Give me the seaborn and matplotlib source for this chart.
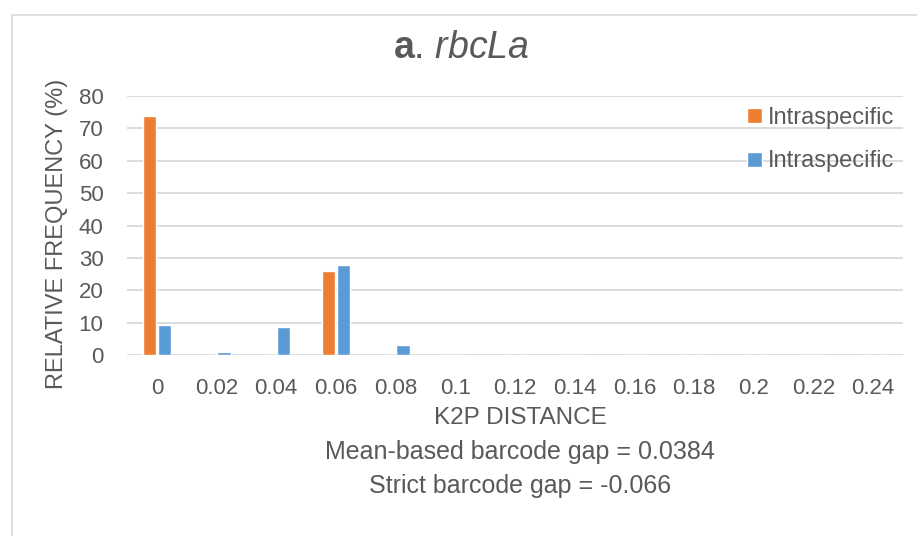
import pandas as pd
import matplotlib
matplotlib.use('Agg')
import matplotlib.pyplot as plt
from matplotlib.patches import Rectangle
import seaborn as sns

distance = ['0', '0.02', '0.04', '0.06', '0.08', '0.1', '0.12', '0.14',
            '0.16', '0.18', '0.2', '0.22', '0.24']
intra = [73.8, 0, 0, 26.0, 0, 0, 0, 0, 0, 0, 0, 0, 0]
inter = [9.3, 0.8, 8.5, 27.8, 3.0, 0, 0, 0, 0, 0, 0, 0, 0]
series_names = ['Intraspecific', 'Intraspecific ']  # both labelled the same in the source
colors = ['#ED7D31', '#5B9BD5']
gray = '#595959'

df = pd.DataFrame({
    'distance': distance * 2,
    'freq': intra + inter,
    'series': [series_names[0]] * len(distance) + [series_names[1]] * len(distance),
})

sns.set_theme(style='white')
font = 'Liberation Sans'
plt.rcParams['font.family'] = [font, 'DejaVu Sans']
plt.rcParams['mathtext.fontset'] = 'custom'
plt.rcParams['mathtext.rm'] = font
plt.rcParams['mathtext.it'] = font + ':italic'
plt.rcParams['mathtext.bf'] = font + ':bold'

fig = plt.figure(figsize=(9.17, 5.36), dpi=100)
ax = fig.add_axes([127 / 917, 1 - 355 / 536, 776 / 917, 259 / 536])

sns.barplot(data=df, x='distance', y='freq', hue='series', order=distance,
            hue_order=series_names, palette=colors, width=0.5, gap=0.1,
            saturation=1, ax=ax, zorder=3)

ax.set_ylim(0, 80)
ax.set_xlim(-0.5, len(distance) - 0.5)
ax.set_yticks(range(0, 81, 10))
ax.yaxis.grid(True, color='#D9D9D9', linewidth=1.3, zorder=0)
ax.set_axisbelow(True)
for s in ax.spines.values():
    s.set_visible(False)
ax.tick_params(axis='y', length=0, pad=17, labelsize=16, labelcolor=gray)
ax.tick_params(axis='x', length=0, pad=16.5, labelsize=16, labelcolor=gray)
ax.set_xlabel('')
ax.set_ylabel('')

fig.text(57 / 917, 1 - 234 / 536, 'RELATIVE FREQUENCY (%)', rotation=90,
         ha='center', va='center', fontsize=17, color=gray)
fig.text(520 / 917, 1 - 418 / 536, 'K2P DISTANCE', ha='center', va='center',
         fontsize=17.5, color=gray)
fig.text(520 / 917, 1 - 452 / 536, 'Mean-based barcode gap = 0.0384',
         ha='center', va='center', fontsize=18, color=gray)
fig.text(520 / 917, 1 - 486 / 536, 'Strict barcode gap = -0.066',
         ha='center', va='center', fontsize=18, color=gray)
fig.text(461 / 917, 1 - 48 / 536, r'$\mathbf{a}$. $\mathit{rbcLa}$',
         ha='center', va='center', fontsize=27, color=gray)

handles, labels = ax.get_legend_handles_labels()
ax.legend(handles, ['Intraspecific', 'Intraspecific'], loc='upper right',
          bbox_to_anchor=(908 / 917, 1 - 93 / 536), bbox_transform=fig.transFigure,
          frameon=False, fontsize=17, labelcolor=gray, handlelength=0.6,
          handleheight=0.6, handletextpad=0.25, labelspacing=0.9,
          borderaxespad=0.2)

# light chart-area border
fig.patches.append(Rectangle((12 / 917, -0.2), 1.2, 1.2 - 15 / 536,
                             transform=fig.transFigure, fill=False,
                             edgecolor='#D9D9D9', linewidth=1.2))

fig.savefig('out.png', dpi=100)
